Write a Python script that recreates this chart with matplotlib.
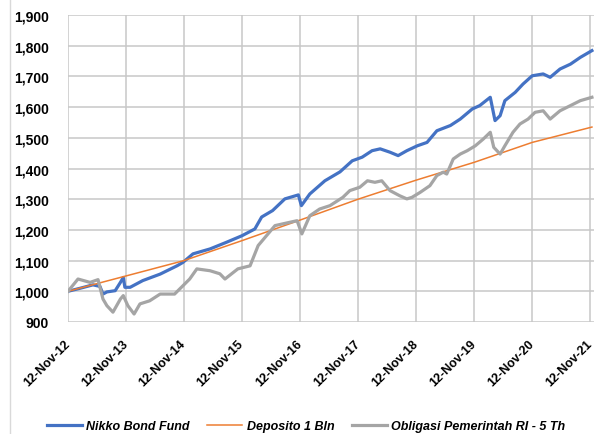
import pandas as pd
import matplotlib
matplotlib.use("Agg")
import matplotlib.pyplot as plt
import matplotlib.dates as mdates
from matplotlib.ticker import FuncFormatter
from matplotlib.lines import Line2D

# Nikko Bond Fund
nikko_dates = ['2012-11-12', '2013-01-28', '2013-04-18', '2013-06-01', '2013-06-20', '2013-07-15',
               '2013-09-05', '2013-10-08', '2013-10-26', '2013-11-05', '2013-12-08', '2014-02-26',
               '2014-06-15', '2014-09-29', '2014-11-05', '2015-01-08', '2015-04-25', '2015-08-08',
               '2015-11-12', '2016-02-01', '2016-03-15', '2016-05-23', '2016-08-08', '2016-11-01',
               '2016-11-20', '2017-01-12', '2017-04-17', '2017-07-21', '2017-10-06', '2017-12-08',
               '2018-02-08', '2018-03-31', '2018-06-01', '2018-07-22', '2018-09-15', '2018-11-20',
               '2019-01-20', '2019-03-23', '2019-06-16', '2019-08-17', '2019-11-01', '2019-12-18',
               '2020-02-22', '2020-03-23', '2020-04-24', '2020-05-24', '2020-07-28', '2020-09-15',
               '2020-11-12', '2021-01-20', '2021-03-05', '2021-05-06', '2021-07-11', '2021-09-11',
               '2021-11-23']
nikko_vals = [1000, 1010, 1021, 1016, 991, 998,
              1002, 1029, 1045, 1013, 1013, 1035,
              1056, 1083, 1094, 1122, 1138, 1160,
              1181, 1203, 1242, 1263, 1301, 1314,
              1279, 1317, 1360, 1389, 1425, 1437,
              1458, 1464, 1453, 1442, 1458, 1474,
              1485, 1523, 1540, 1561, 1594, 1605,
              1632, 1556, 1572, 1621, 1648, 1675,
              1702, 1708, 1697, 1724, 1740, 1762,
              1784]

# Deposito 1 Bln
depo_dates = ['2012-11-12', '2013-11-12', '2014-11-12', '2015-11-12', '2016-11-12',
              '2017-11-12', '2018-11-12', '2019-11-12', '2020-11-12', '2021-11-23']
depo_vals = [1000, 1050, 1100, 1165, 1232, 1300, 1362, 1420, 1485, 1535]

# Obligasi Pemerintah RI - 5 Th
obl_dates = ['2012-11-12', '2013-01-14', '2013-03-31', '2013-05-20', '2013-06-20', '2013-07-15',
             '2013-08-22', '2013-10-08', '2013-10-26', '2013-11-24', '2014-01-02', '2014-02-08',
             '2014-04-10', '2014-06-15', '2014-09-14', '2014-10-17', '2014-12-18', '2015-02-01',
             '2015-04-25', '2015-06-26', '2015-07-28', '2015-10-17', '2016-01-02', '2016-02-22',
             '2016-04-06', '2016-06-07', '2016-09-10', '2016-10-24', '2016-11-23', '2017-01-12',
             '2017-03-15', '2017-05-19', '2017-08-08', '2017-09-21', '2017-11-23', '2018-01-10',
             '2018-02-26', '2018-04-10', '2018-06-01', '2018-08-02', '2018-09-15', '2018-10-17',
             '2018-12-07', '2019-02-07', '2019-03-23', '2019-05-02', '2019-05-24', '2019-07-04',
             '2019-08-17', '2019-09-30', '2019-11-20', '2020-01-09', '2020-02-22', '2020-03-15',
             '2020-04-24', '2020-05-24', '2020-07-14', '2020-08-27', '2020-10-17', '2020-11-30',
             '2021-01-20', '2021-03-05', '2021-05-06', '2021-07-11', '2021-09-11', '2021-11-23']
obl_vals = [1000, 1040, 1029, 1038, 975, 953,
            932, 975, 986, 953, 926, 959,
            969, 991, 991, 1008, 1040, 1073,
            1067, 1057, 1040, 1073, 1083, 1149,
            1176, 1214, 1225, 1230, 1187, 1246,
            1268, 1279, 1306, 1328, 1339, 1360,
            1355, 1360, 1328, 1311, 1301, 1306,
            1322, 1344, 1377, 1388, 1382, 1431,
            1447, 1458, 1474, 1496, 1518, 1469,
            1447, 1474, 1518, 1545, 1561, 1583,
            1588, 1561, 1588, 1605, 1621, 1632]

tick_dates = ['2012-11-12', '2013-11-12', '2014-11-12', '2015-11-12', '2016-11-12',
              '2017-11-12', '2018-11-12', '2019-11-12', '2020-11-12', '2021-11-12']

fig = plt.figure(figsize=(6.04, 4.35), dpi=100)
ax = fig.add_axes([68/604, 1-323/435, (594-68)/604, (323-16)/435])

ax.plot(pd.to_datetime(nikko_dates), nikko_vals, color='#4472C4', lw=2.3,
        label='Nikko Bond Fund', solid_joinstyle='round')
ax.plot(pd.to_datetime(depo_dates), depo_vals, color='#ED7D31', lw=1.1,
        label='Deposito 1 Bln')
ax.plot(pd.to_datetime(obl_dates), obl_vals, color='#A5A5A5', lw=2.3,
        label='Obligasi Pemerintah RI - 5 Th', solid_joinstyle='round')

ax.set_xlim(pd.Timestamp('2012-11-12'), pd.Timestamp('2021-12-06'))
ax.set_ylim(900, 1900)
ax.set_yticks(range(900, 2000, 100))
ax.yaxis.set_major_formatter(FuncFormatter(lambda v, p: f'{int(v):,}'))
ax.set_xticks(pd.to_datetime(tick_dates))
ax.xaxis.set_major_formatter(mdates.DateFormatter('%d-%b-%y'))

for s in ax.spines.values():
    s.set_visible(False)
ax.grid(True, color='#c8c8c8', lw=1.1)
ax.set_axisbelow(True)
ax.tick_params(axis='both', length=0)
ax.tick_params(axis='y', pad=14)
ax.tick_params(axis='x', pad=14)

for lbl in ax.get_yticklabels():
    lbl.set_fontfamily('Liberation Sans')
    lbl.set_fontweight('bold')
    lbl.set_fontsize(10)
for lbl in ax.get_xticklabels():
    lbl.set_fontfamily('Liberation Sans')
    lbl.set_fontweight('bold')
    lbl.set_fontsize(9)
    lbl.set_rotation(45)
    lbl.set_ha('right')
    lbl.set_va('center')
    lbl.set_rotation_mode('anchor')

fig.legend(loc='center', bbox_to_anchor=(0.507, 0.018), ncol=3, frameon=False,
           prop={'family': 'Liberation Sans', 'weight': 'bold', 'style': 'italic', 'size': 9},
           handlelength=2.8, handletextpad=0.35, columnspacing=1.4)

# left border of the chart area
fig.add_artist(Line2D([10/604, 10/604], [0, 1], color='#d9d9d9', lw=1))

fig.savefig('out.png', dpi=100)
